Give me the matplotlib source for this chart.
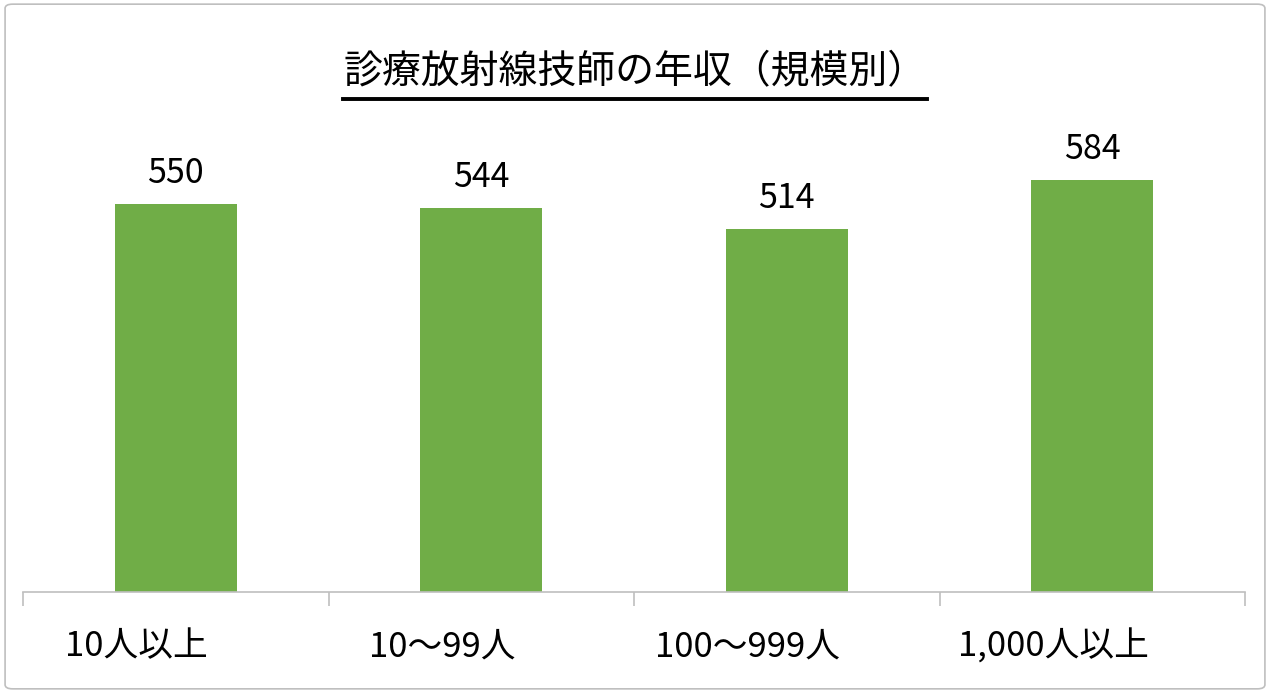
import matplotlib
matplotlib.use('Agg')
import matplotlib.pyplot as plt
from matplotlib.patches import FancyBboxPatch
from matplotlib.lines import Line2D
from matplotlib.transforms import ScaledTranslation

plt.rcParams['font.family'] = ['Noto Sans CJK JP', 'DejaVu Sans']

categories = ['10人以上', '10〜99人', '100〜999人', '1,000人以上']
values = [550, 544, 514, 584]
title = '診療放射線技師の年収（規模別）'

fig = plt.figure(figsize=(12.7, 6.93), dpi=100)
ax = fig.add_axes([23 / 1270, 101 / 693, 1222 / 1270, 494 / 693])

x = range(len(categories))
bars = ax.bar(x, values, width=0.4, color='#70AD47')
for xi, v in zip(x, values):
    ax.text(xi, v + 30, str(v), ha='center', va='baseline', fontsize=24.5)

ax.set_xlim(-0.5, len(categories) - 0.5)
ax.set_ylim(0, 700)
ax.set_yticks([])
for s in ['top', 'right', 'left']:
    ax.spines[s].set_visible(False)
ax.spines['bottom'].set_color('#bfbfbf')
ax.spines['bottom'].set_linewidth(1.2)

ax.set_xticks(list(x))
ax.set_xticklabels(categories, fontsize=25)
ax.tick_params(axis='x', which='major', length=0, pad=27)
ax.set_xticks([i - 0.5 for i in range(len(categories) + 1)], minor=True)
ax.tick_params(axis='x', which='minor', length=10, color='#bfbfbf', width=1.2)
# the labels sit a little left of the category centres
shift = ScaledTranslation(-0.39, 0, fig.dpi_scale_trans)
for lab in ax.get_xticklabels():
    lab.set_transform(lab.get_transform() + shift)

# title with underline
t = fig.text(0.5, 1 - 72 / 693, title, ha='center', va='center', fontsize=28)
fig.canvas.draw()
bb = t.get_window_extent()
inv = fig.transFigure.inverted()
(x0, y0), (x1, y1) = inv.transform([(bb.x0, bb.y0), (bb.x1, bb.y1)])
yl = 1 - 99 / 693
fig.add_artist(Line2D([x0, x1], [yl, yl], color='black', lw=2.8,
                      transform=fig.transFigure))

# chart border
fig.add_artist(FancyBboxPatch((0.004, 0.006), 0.992, 0.988,
                              boxstyle='round,pad=0,rounding_size=0.006',
                              transform=fig.transFigure, fill=False,
                              edgecolor='#bfbfbf', lw=1.2))

fig.savefig('out.png', dpi=100)
